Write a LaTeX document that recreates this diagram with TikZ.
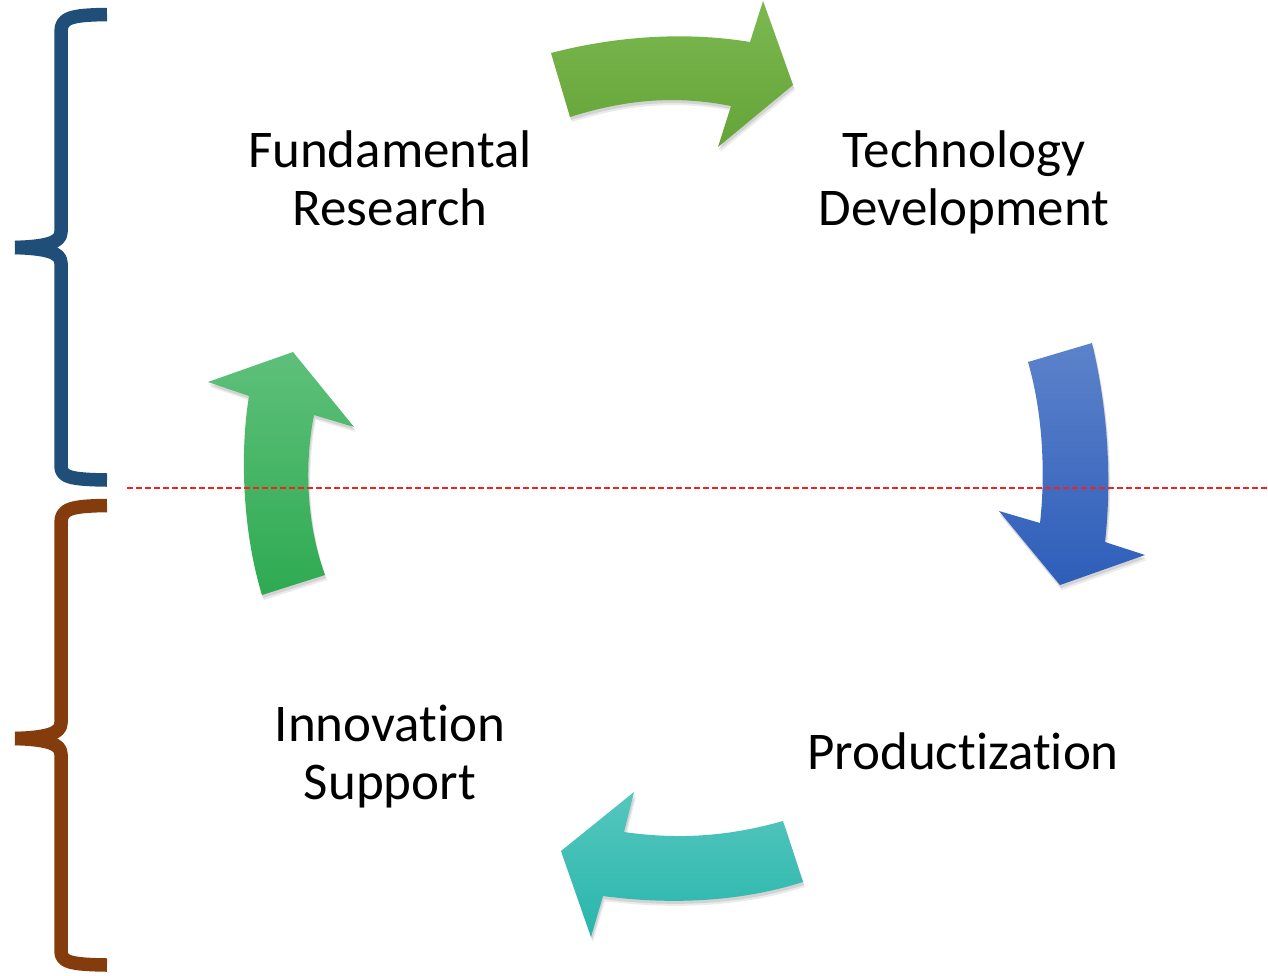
\documentclass[tikz,border=0pt]{standalone}
\usepackage{fontspec}
\setmainfont{Carlito}[Ligatures={NoCommon}]
\definecolor{gAtop}{RGB}{124,184,80}
\definecolor{gAbot}{RGB}{100,164,56}
\definecolor{bTop}{RGB}{92,130,202}
\definecolor{bBot}{RGB}{46,94,186}
\definecolor{tTop}{RGB}{86,198,190}
\definecolor{tBot}{RGB}{40,182,172}
\definecolor{gBtop}{RGB}{94,192,122}
\definecolor{gBbot}{RGB}{46,170,82}
\definecolor{braceblue}{RGB}{31,78,121}
\definecolor{bracebrown}{RGB}{132,60,12}
\definecolor{dashred}{RGB}{250,30,30}
\tikzset{
  lbl/.style={anchor=base, inner sep=0pt, font=\fontsize{53}{58}\selectfont},
  shade1/.style={fill=black, opacity=0.10},
  shade2/.style={fill=black, opacity=0.08},
  bracestroke/.style={line width=13.5pt, line cap=butt, line join=round},
  divider/.style={draw=dashred, line width=1.5pt, dash pattern=on 6pt off 3pt}
}
\def\arrTop{(551,53) .. controls (620,35) and (690,32) .. (750,42) -- (763,1) -- (793,85) -- (718,147) -- (731,106) .. controls (680,96) and (630,98) .. (570,117) -- cycle}
\def\arrRight{(1028,362) -- (1092,343) .. controls (1108,410) and (1112,480) .. (1105,542) -- (1145,555) -- (1060,585) -- (999,511) -- (1040,523) .. controls (1046,470) and (1042,410) .. (1028,362) -- cycle}
\def\arrBottom{(783,821) -- (803,882) .. controls (740,902) and (670,905) .. (603,896) -- (591,937) -- (561,851) -- (634,792) -- (624,832) .. controls (680,840) and (730,836) .. (783,821) -- cycle}
\def\arrLeft{(262,595) -- (325,575) .. controls (305,520) and (305,460) .. (314,415) -- (354,427) -- (293,352) -- (208,382) -- (249,396) .. controls (240,450) and (242,530) .. (262,595) -- cycle}
\begin{document}
\begin{tikzpicture}[x=1pt,y=-1pt]
\useasboundingbox (0,0) rectangle (1268,975);
\fill[white] (0,0) rectangle (1268,975);
% shadows
\begin{scope}[shift={(1,3)}]
  \path[shade1] \arrTop; \path[shade1] \arrRight; \path[shade1] \arrBottom; \path[shade1] \arrLeft;
\end{scope}
\begin{scope}[shift={(2,5)}]
  \path[shade2] \arrTop; \path[shade2] \arrRight; \path[shade2] \arrBottom; \path[shade2] \arrLeft;
\end{scope}
% arrows
\path[top color=gAtop, bottom color=gAbot] \arrTop;
\path[top color=bTop, bottom color=bBot] \arrRight;
\path[top color=tTop, bottom color=tBot] \arrBottom;
\path[top color=gBtop, bottom color=gBbot] \arrLeft;
% divider
\coordinate (dl) at (127,488);
\coordinate (dr) at (1268,488);
\draw[divider] (dl) -- (dr);
% braces
\draw[bracestroke, draw=braceblue] (107,14.5) .. controls (70,15) and (61,18) .. (61,32) -- (61,232) .. controls (61,243) and (45,246.5) .. (15,247.5);
\draw[bracestroke, draw=braceblue] (15,247.5) .. controls (45,248.5) and (61,252) .. (61,263) -- (61,466) .. controls (61,477) and (70,479.5) .. (107,480);
\draw[bracestroke, draw=bracebrown] (107,505.5) .. controls (70,506) and (61,509) .. (61,523) -- (61,723) .. controls (61,734) and (45,737.5) .. (15,738.5);
\draw[bracestroke, draw=bracebrown] (15,738.5) .. controls (45,739.5) and (61,743) .. (61,754) -- (61,951) .. controls (61,962) and (70,964.5) .. (107,965);
% labels
\node[lbl] (fund) at (390,167) {Fundamental};
\node[lbl] (res) at (390,225) {Research};
\node[lbl] (tech) at (964,167) {Technology};
\node[lbl] (dev) at (964,225) {Development};
\node[lbl] (prod) at (963,769) {Productization};
\node[lbl] (inno) at (390,741) {Innovation};
\node[lbl] (supp) at (390,799) {Support};
\end{tikzpicture}
\end{document}
